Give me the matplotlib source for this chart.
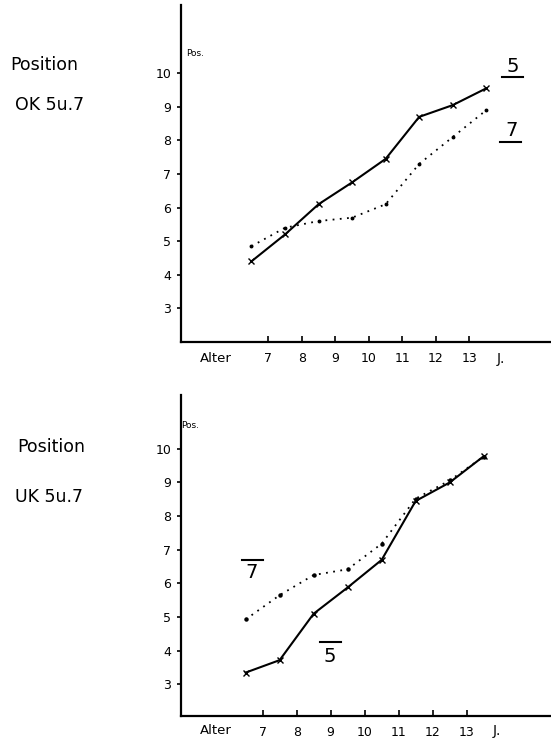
import matplotlib.pyplot as plt
from matplotlib.lines import Line2D

# ---------- data ----------
ages = [6.5, 7.5, 8.5, 9.5, 10.5, 11.5, 12.5, 13.5]
ok_5 = [4.4, 5.2, 6.1, 6.75, 7.45, 8.7, 9.05, 9.55]
ok_7 = [4.85, 5.4, 5.6, 5.7, 6.1, 7.3, 8.1, 8.9]
uk_5 = [3.35, 3.72, 5.1, 5.88, 6.7, 8.45, 9.0, 9.78]
uk_7 = [4.93, 5.65, 6.25, 6.42, 7.18, 8.52, 9.06, 9.77]
xticks = [7, 8, 9, 10, 11, 12, 13]
yticks = [3, 4, 5, 6, 7, 8, 9, 10]

W, H = 551, 746
fig = plt.figure(figsize=(W / 100, H / 100), dpi=100)


def px_axes(left, top, right, bottom):
    return fig.add_axes([left / W, 1 - bottom / H, (right - left) / W, (bottom - top) / H])


def setup(ax, xlim, ylim):
    ax.set_xlim(*xlim)
    ax.set_ylim(*ylim)
    for s in ["top", "right"]:
        ax.spines[s].set_visible(False)
    for s in ["left", "bottom"]:
        ax.spines[s].set_linewidth(1.6)
    ax.set_xticks(xticks)
    ax.set_yticks(yticks)
    ax.tick_params(axis="x", direction="in", length=4, width=1.2, pad=7, labelsize=9)
    ax.tick_params(axis="y", direction="out", length=3, width=1.2, pad=4, labelsize=9)
    ax.set_facecolor("none")


def hline(x0, x1, y):
    fig.add_artist(Line2D([x0 / W, x1 / W], [1 - y / H, 1 - y / H], color="black", lw=1.5))


# ---------- top chart: OK ----------
ax1 = px_axes(181, 5, 550, 342)
setup(ax1, (4.4, 15.4), (2.0, 12.03))
ax1.plot(ages, ok_5, "k-", lw=1.5, marker="x", ms=5, mew=1.0)
ax1.plot(ages, ok_7, color="black", ls=(0, (1, 3)), lw=1.3, marker="o", ms=1.8)

fig.text(10 / W, 1 - 65 / H, "Position", fontsize=12.5, va="center", ha="left")
fig.text(15 / W, 1 - 105 / H, "OK 5u.7", fontsize=12.5, va="center", ha="left")
fig.text(186 / W, 1 - 53 / H, "Pos.", fontsize=6.5, va="center", ha="left")
fig.text(200 / W, 1 - 358 / H, "Alter", fontsize=9.5, va="center", ha="left")
fig.text(497 / W, 1 - 359 / H, "J.", fontsize=10, va="center", ha="left")
fig.text(513 / W, 1 - 66 / H, "5", fontsize=14, va="center", ha="center")
hline(502, 523, 77)
fig.text(512 / W, 1 - 130 / H, "7", fontsize=14, va="center", ha="center")
hline(500, 521, 142)

# ---------- bottom chart: UK ----------
ax2 = px_axes(181, 395, 550, 716)
setup(ax2, (4.6, 15.45), (2.06, 11.6))
ax2.plot(ages, uk_5, "k-", lw=1.5, marker="x", ms=5, mew=1.0)
ax2.plot(ages, uk_7, color="black", ls=(0, (1, 3)), lw=1.3, marker="o", ms=2.2)

fig.text(17 / W, 1 - 447 / H, "Position", fontsize=12.5, va="center", ha="left")
fig.text(15 / W, 1 - 497 / H, "UK 5u.7", fontsize=12.5, va="center", ha="left")
fig.text(181 / W, 1 - 425 / H, "Pos.", fontsize=6.5, va="center", ha="left")
fig.text(200 / W, 1 - 731 / H, "Alter", fontsize=9.5, va="center", ha="left")
fig.text(493 / W, 1 - 731 / H, "J.", fontsize=10, va="center", ha="left")
fig.text(252 / W, 1 - 572 / H, "7", fontsize=14, va="center", ha="center")
hline(242, 263, 560)
fig.text(330 / W, 1 - 656 / H, "5", fontsize=14, va="center", ha="center")
hline(320, 341, 642)

fig.savefig("out.png", dpi=100)
